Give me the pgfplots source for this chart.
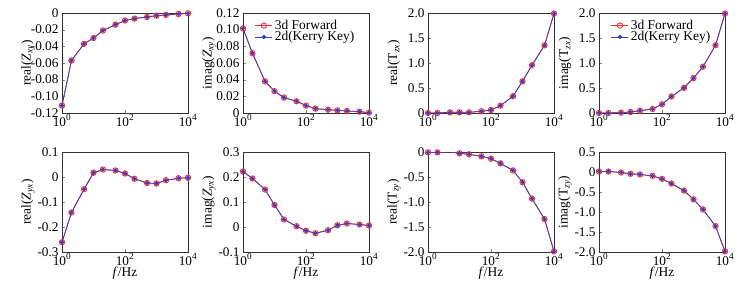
\documentclass[border=0pt]{standalone}
\usepackage{fontspec}
\setmainfont{Liberation Serif}
\usepackage{pgfplots}
\pgfplotsset{compat=1.18}
\definecolor{myred}{RGB}{250,40,50}
\definecolor{myblue}{RGB}{55,65,185}
\pgfplotsset{
  every axis/.append style={
    scale only axis, width=126bp, height=100bp,
    tick align=inside, xtick pos=bottom, ytick pos=left,
    major tick length=3bp,
    axis line style={black!80, line width=0.6pt},
    tick label style={font=\fontsize{13.3}{15}\selectfont},
    xticklabel style={inner sep=1.5pt},
    y label style={at={(axis description cs:-0.27,0.5)}, anchor=center, font=\fontsize{13.5}{15}\selectfont},
    x label style={at={(axis description cs:0.5,-0.21)}, anchor=center, font=\fontsize{13.5}{15}\selectfont},
    legend style={draw=none, fill=none, font=\fontsize{13.5}{15}\selectfont,
      at={(axis description cs:0.07,0.97)}, anchor=north west, row sep=-3.5pt},
    legend cell align=left,
  },
  s3d/.style={myred, line width=0.8pt, mark=o, mark size=2.7pt, mark options={fill=red!25, line width=0.9pt}},
  s2d/.style={myblue, line width=0.8pt, mark=*, mark size=1.7pt, mark options={fill=myblue}},
}
\pgfplotstableread{
f   a        b        c       d       e        g        h        k
1   -0.111   0.1015   0.000   0.000   -0.261   0.222   -0.007   0.013
2   -0.057   0.0717   0.000   0.000   -0.142   0.194   -0.007   0.013
5   -0.037   0.0379   0.013   0.007   -0.049   0.150    0.005  -0.012
10  -0.030   0.0262   0.013   0.020    0.017   0.088   -0.027  -0.045
20  -0.021   0.0185   0.013   0.047    0.030   0.030   -0.047  -0.062
50  -0.014   0.0141   0.034   0.080    0.026   0.003   -0.087  -0.096
100 -0.009   0.0089   0.060   0.174    0.014  -0.015   -0.134  -0.171
200 -0.0067  0.0052   0.148   0.330   -0.007  -0.025   -0.228  -0.289
500 -0.0048  0.0040   0.337   0.503   -0.024  -0.013   -0.369  -0.465
1000 -0.0032 0.0032   0.633   0.698   -0.026   0.007   -0.604  -0.683
2000 -0.0024 0.0024   0.956   0.926   -0.013   0.014   -0.933  -0.935
5000 -0.0012 0.0016   1.354   1.356   -0.005   0.010   -1.342  -1.354
10000 -0.0004 0.0004  1.990   1.990   -0.003   0.006   -1.987  -1.983
}\data
\newcommand{\Zs}[1]{\textit{Z}\textsubscript{\textit{#1}}}
\newcommand{\Ts}[1]{T\textsubscript{\textit{#1}}}
\begin{document}
\begin{tikzpicture}
\useasboundingbox (0bp,0bp) rectangle (751bp,291bp);
% top row
\begin{semilogxaxis}[at={(62bp,178bp)}, anchor=south west,
  xmin=1, xmax=10000, xtick={1,100,10000}, minor xtick={},
  xticklabels={10\textsuperscript{0},10\textsuperscript{2},10\textsuperscript{4}},
  ymin=-0.12, ymax=0, ytick={-0.12,-0.1,-0.08,-0.06,-0.04,-0.02,0},
  yticklabels={-0.12,-0.10,-0.08,-0.06,-0.04,-0.02,0},
  ylabel={real(\Zs{xy})}]
\addplot[s3d] table[x=f,y=a]{\data};
\addplot[s2d] table[x=f,y=a]{\data};
\end{semilogxaxis}
\begin{semilogxaxis}[at={(243bp,178bp)}, anchor=south west,
  xmin=1, xmax=10000, xtick={1,100,10000}, minor xtick={},
  xticklabels={10\textsuperscript{0},10\textsuperscript{2},10\textsuperscript{4}},
  ymin=0, ymax=0.12, ytick={0,0.02,0.04,0.06,0.08,0.1,0.12},
  yticklabels={0,0.02,0.04,0.06,0.08,0.10,0.12},
  ylabel={imag(\Zs{xy})}]
\addplot[s3d] table[x=f,y=b]{\data};
\addplot[s2d] table[x=f,y=b]{\data};
\legend{3d Forward, 2d(Kerry Key)}
\end{semilogxaxis}
\begin{semilogxaxis}[at={(428bp,178bp)}, anchor=south west,
  xmin=1, xmax=10000, xtick={1,100,10000}, minor xtick={},
  xticklabels={10\textsuperscript{0},10\textsuperscript{2},10\textsuperscript{4}},
  ymin=0, ymax=2, ytick={0,0.5,1,1.5,2},
  yticklabels={0,0.5,1.0,1.5,2.0},
  ylabel={real(\Ts{zx})}]
\addplot[s3d] table[x=f,y=c]{\data};
\addplot[s2d] table[x=f,y=c]{\data};
\end{semilogxaxis}
\begin{semilogxaxis}[at={(599bp,178bp)}, anchor=south west,
  xmin=1, xmax=10000, xtick={1,100,10000}, minor xtick={},
  xticklabels={10\textsuperscript{0},10\textsuperscript{2},10\textsuperscript{4}},
  ymin=0, ymax=2, ytick={0,0.5,1,1.5,2},
  yticklabels={0,0.5,1.0,1.5,2.0},
  ylabel={imag(\Ts{zx})}]
\addplot[s3d] table[x=f,y=d]{\data};
\addplot[s2d] table[x=f,y=d]{\data};
\legend{3d Forward, 2d(Kerry Key)}
\end{semilogxaxis}
% bottom row
\begin{semilogxaxis}[at={(62bp,39bp)}, anchor=south west,
  xmin=1, xmax=10000, xtick={1,100,10000}, minor xtick={},
  xticklabels={10\textsuperscript{0},10\textsuperscript{2},10\textsuperscript{4}},
  ymin=-0.3, ymax=0.1, ytick={-0.3,-0.2,-0.1,0,0.1},
  yticklabels={-0.3,-0.2,-0.1,0,0.1},
  ylabel={real(\Zs{yx})}, xlabel={\textit{f}/Hz}]
\addplot[s3d] table[x=f,y=e]{\data};
\addplot[s2d] table[x=f,y=e]{\data};
\end{semilogxaxis}
\begin{semilogxaxis}[at={(243bp,39bp)}, anchor=south west,
  xmin=1, xmax=10000, xtick={1,100,10000}, minor xtick={},
  xticklabels={10\textsuperscript{0},10\textsuperscript{2},10\textsuperscript{4}},
  ymin=-0.1, ymax=0.3, ytick={-0.1,0,0.1,0.2,0.3},
  yticklabels={-0.1,0,0.1,0.2,0.3},
  ylabel={imag(\Zs{yx})}, xlabel={\textit{f}/Hz}]
\addplot[s3d] table[x=f,y=g]{\data};
\addplot[s2d] table[x=f,y=g]{\data};
\end{semilogxaxis}
\begin{semilogxaxis}[at={(428bp,39bp)}, anchor=south west,
  xmin=1, xmax=10000, xtick={1,100,10000}, minor xtick={},
  xticklabels={10\textsuperscript{0},10\textsuperscript{2},10\textsuperscript{4}},
  ymin=-2, ymax=0, ytick={-2,-1.5,-1,-0.5,0},
  yticklabels={-2.0,-1.5,-1.0,-0.5,0},
  ylabel={real(\Ts{zy})}, xlabel={\textit{f}/Hz}]
\addplot[s3d] table[x=f,y=h]{\data};
\addplot[s2d] table[x=f,y=h]{\data};
\end{semilogxaxis}
\begin{semilogxaxis}[at={(599bp,39bp)}, anchor=south west,
  xmin=1, xmax=10000, xtick={1,100,10000}, minor xtick={},
  xticklabels={10\textsuperscript{0},10\textsuperscript{2},10\textsuperscript{4}},
  ymin=-2, ymax=0.5, ytick={-2,-1.5,-1,-0.5,0,0.5},
  yticklabels={-2.0,-1.5,-1.0,-0.5,0,0.5},
  ylabel={imag(\Ts{zy})}, xlabel={\textit{f}/Hz}]
\addplot[s3d] table[x=f,y=k]{\data};
\addplot[s2d] table[x=f,y=k]{\data};
\end{semilogxaxis}
\end{tikzpicture}
\end{document}
